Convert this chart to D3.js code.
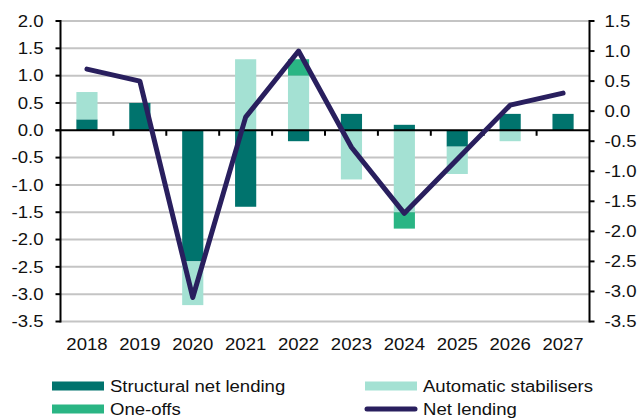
<!DOCTYPE html>
<html>
<head>
<meta charset="utf-8">
<script src="https://cdn.jsdelivr.net/npm/d3@7"></script>
<style>
  html, body { margin: 0; padding: 0; background: #fff; }
  svg { display: block; }
  text { font-family: "Liberation Sans", Arial, sans-serif; font-size: 16px; fill: #111; }
</style>
</head>
<body>
<svg id="chart" width="638" height="418"></svg>
<script>
// Budget balance decomposition, % of GDP
const years = ["2018", "2019", "2020", "2021", "2022", "2023", "2024", "2025", "2026", "2027"];
const structural = [0.2, 0.5, -2.4, -1.4, -0.2, 0.3, 0.1, -0.3, 0.3, 0.3];
const automatic  = [0.5, 0.0, -0.8, 1.3, 1.0, -0.9, -1.5, -0.5, -0.2, 0.0];
const oneOffs    = [0.0, 0.0, 0.0, 0.0, 0.3, 0.0, -0.3, 0.0, 0.0, 0.0];
const netLending = [0.7, 0.5, -3.1, -0.1, 1.0, -0.6, -1.7, -0.8, 0.1, 0.3];

const leftTicks  = [2.0, 1.5, 1.0, 0.5, 0.0, -0.5, -1.0, -1.5, -2.0, -2.5, -3.0, -3.5];
const rightTicks = [1.5, 1.0, 0.5, 0.0, -0.5, -1.0, -1.5, -2.0, -2.5, -3.0, -3.5];

const seriesKeys   = ["structural", "automatic", "oneOffs"];
const seriesNames  = {structural: "Structural net lending", automatic: "Automatic stabilisers", oneOffs: "One-offs"};
const seriesColors = {structural: "#00736d", automatic: "#a4e1d3", oneOffs: "#2ab584"};
const lineColor = "#291f5e";

const rows = years.map((y, i) => ({year: y, structural: structural[i], automatic: automatic[i], oneOffs: oneOffs[i]}));

const svg = d3.select("#chart");
const plot = {left: 60.5, right: 589.5, top: 21, bottom: 321.5};
const SX = 1.16; // horizontal text stretch

const x = d3.scaleBand().domain(years).range([plot.left, plot.right]).padding(0);
const yL = d3.scaleLinear().domain([-3.5, 2.0]).range([plot.bottom, plot.top]);
const yR = d3.scaleLinear().domain([-3.5, 1.5]).range([plot.bottom, plot.top]);
const barW = x.bandwidth() * 0.4;

function label(g, px, py, str, anchor) {
  g.append("text")
    .attr("transform", `translate(${px},${py}) scale(${SX},1)`)
    .attr("text-anchor", anchor)
    .text(str);
}
const fmt = d3.format(".1f");
const fmtTick = v => fmt(v).replace("−", "-");

// gridlines
svg.append("g").selectAll("line").data(leftTicks.filter(t => t !== 0)).join("line")
  .attr("x1", plot.left).attr("x2", plot.right)
  .attr("y1", d => yL(d)).attr("y2", d => yL(d))
  .attr("stroke", "#c4c4c4").attr("stroke-width", 2);

// stacked bars (diverging)
const stacked = d3.stack().keys(seriesKeys).offset(d3.stackOffsetDiverging)(rows);
svg.append("g").selectAll("g").data(stacked).join("g")
  .attr("fill", d => seriesColors[d.key])
  .selectAll("rect").data(d => d.filter(s => s[1] !== s[0])).join("rect")
  .attr("x", d => x(d.data.year) + (x.bandwidth() - barW) / 2)
  .attr("width", barW)
  .attr("y", d => yL(Math.max(d[0], d[1])))
  .attr("height", d => Math.abs(yL(d[0]) - yL(d[1])));

// zero line and category ticks
const zeroY = yL(0);
svg.append("line").attr("x1", plot.left - 5).attr("x2", plot.right)
  .attr("y1", zeroY).attr("y2", zeroY).attr("stroke", "#000").attr("stroke-width", 2);
svg.append("g").selectAll("line").data(years.slice(1)).join("line")
  .attr("x1", d => x(d)).attr("x2", d => x(d))
  .attr("y1", zeroY).attr("y2", zeroY + 5.5)
  .attr("stroke", "#000").attr("stroke-width", 2);

// left axis
const gl = svg.append("g");
gl.append("line").attr("x1", plot.left).attr("x2", plot.left)
  .attr("y1", plot.top - 1).attr("y2", plot.bottom + 1).attr("stroke", "#000").attr("stroke-width", 2);
gl.selectAll("line.t").data(leftTicks).join("line").attr("class", "t")
  .attr("x1", plot.left - 5).attr("x2", plot.left)
  .attr("y1", d => yL(d)).attr("y2", d => yL(d)).attr("stroke", "#000").attr("stroke-width", 2);
leftTicks.forEach(t => label(gl, 43.5, yL(t) + 5.8, fmtTick(t), "end"));

// right axis
const gr = svg.append("g");
gr.append("line").attr("x1", plot.right).attr("x2", plot.right)
  .attr("y1", plot.top - 1).attr("y2", plot.bottom + 1).attr("stroke", "#000").attr("stroke-width", 2);
gr.selectAll("line.t").data(rightTicks).join("line").attr("class", "t")
  .attr("x1", plot.right).attr("x2", plot.right + 5)
  .attr("y1", d => yR(d)).attr("y2", d => yR(d)).attr("stroke", "#000").attr("stroke-width", 2);
rightTicks.forEach(t => label(gr, 604.5, yR(t) + 5.8, fmtTick(t), "start"));

// category labels
const gx = svg.append("g");
years.forEach(y => label(gx, x(y) + x.bandwidth() / 2, 350, y, "middle"));

// net lending line (right axis)
const line = d3.line()
  .x((d, i) => x(years[i]) + x.bandwidth() / 2)
  .y(d => yR(d));
svg.append("path").datum(netLending)
  .attr("d", line)
  .attr("fill", "none").attr("stroke", lineColor).attr("stroke-width", 5)
  .attr("stroke-linejoin", "round").attr("stroke-linecap", "round");

// legend
const lg = svg.append("g");
const legendItems = [
  {name: seriesNames.structural, color: seriesColors.structural, type: "rect", x: 52, y: 386},
  {name: seriesNames.automatic, color: seriesColors.automatic, type: "rect", x: 365, y: 386},
  {name: seriesNames.oneOffs, color: seriesColors.oneOffs, type: "rect", x: 52, y: 409},
  {name: "Net lending", color: lineColor, type: "line", x: 365, y: 409}
];
legendItems.forEach(it => {
  if (it.type === "rect") {
    lg.append("rect").attr("x", it.x).attr("y", it.y - 4.5).attr("width", 52).attr("height", 9).attr("fill", it.color);
  } else {
    lg.append("line").attr("x1", it.x + 2).attr("x2", it.x + 50).attr("y1", it.y).attr("y2", it.y)
      .attr("stroke", it.color).attr("stroke-width", 5).attr("stroke-linecap", "round");
  }
  label(lg, it.x + 58, it.y + 5.5, it.name, "start");
});
</script>
</body>
</html>
